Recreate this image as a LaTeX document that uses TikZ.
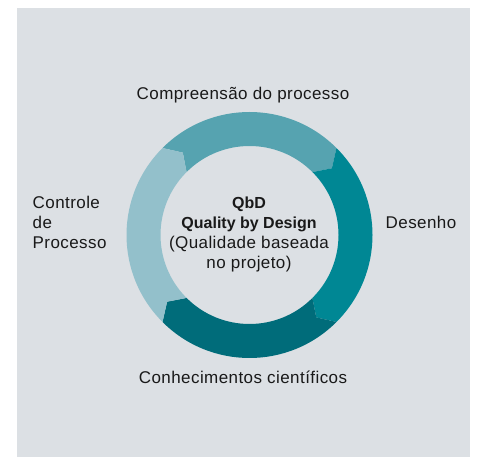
\documentclass[tikz,border=0pt]{standalone}
\usepackage{fontspec}
\setmainfont[LetterSpace = 2.5, BoldFeatures = {LetterSpace = 0}]{Liberation Sans}

\newcommand{\qbdtext}[4]{\node (#1) at (#2, #3) [anchor = base, inner sep = 0pt] {#4};}
\newcommand{\qbdtextl}[4]{\node (#1) at (#2, #3) [anchor = base west, inner sep = 0pt] {#4};}
% Ringsegment: Farbe, Startwinkel, Endwinkel (im Uhrzeigersinn)
\newcommand{\qbdsegment}[3]{\fill [#1] (#2:123) arc [start angle = #2, end angle = #3, radius = 123]
  -- (#3-6:106) -- (#3:89) arc [start angle = #3, end angle = #2, radius = 89] -- (#2-6:106) -- cycle;}
\definecolor{myBack}{RGB}{220, 224, 228}
\definecolor{myTealA}{RGB}{86, 163, 176}
\definecolor{myTealB}{RGB}{0, 135, 148}
\definecolor{myTealC}{RGB}{0, 108, 122}
\definecolor{myTealD}{RGB}{147, 192, 203}
\definecolor{myText}{RGB}{25, 25, 25}

\begin{document}
\begin{tikzpicture}[x = 1pt, y = 1pt, text = myText]   % 1 Einheit = 1 Pixel
  % Bounding box
  \useasboundingbox (0, 0) rectangle (478, 457);
  % Hintergrund
  \fill [myBack] (17, 0) rectangle (470, 449);
  % Ring
  \begin{scope}[shift = {(249.5, 222)}]
    \qbdsegment{myTealA}{135}{45}
    \qbdsegment{myTealB}{45}{-45}
    \qbdsegment{myTealC}{-45}{-135}
    \qbdsegment{myTealD}{-135}{-225}
  \end{scope}
  % Mitte
  \begin{scope}[font = \fontsize{16}{20}\selectfont\bfseries]
    \qbdtext{qbd}{249}{248.5}{QbD}
    \qbdtext{qbdlong}{249}{228.5}{Quality by Design}
  \end{scope}
  \begin{scope}[font = \fontsize{17}{20}\selectfont]
    \qbdtext{qbdpt}{249}{208.5}{(Qualidade baseada}
    \qbdtext{qbdptb}{249}{188.5}{no projeto)}
    % drüber
    \qbdtext{compreensao}{243}{357.5}{Compreensão do processo}
    % drunter
    \qbdtext{conhecimentos}{243}{73.5}{Conhecimentos científicos}
    % rechts
    \qbdtextl{desenho}{385.5}{228.5}{Desenho}
    % links
    \qbdtextl{controleA}{32.5}{248.5}{Controle}
    \qbdtextl{controleB}{32.5}{228.5}{de}
    \qbdtextl{controleC}{32.5}{208.5}{Processo}
  \end{scope}
\end{tikzpicture}
\end{document}
